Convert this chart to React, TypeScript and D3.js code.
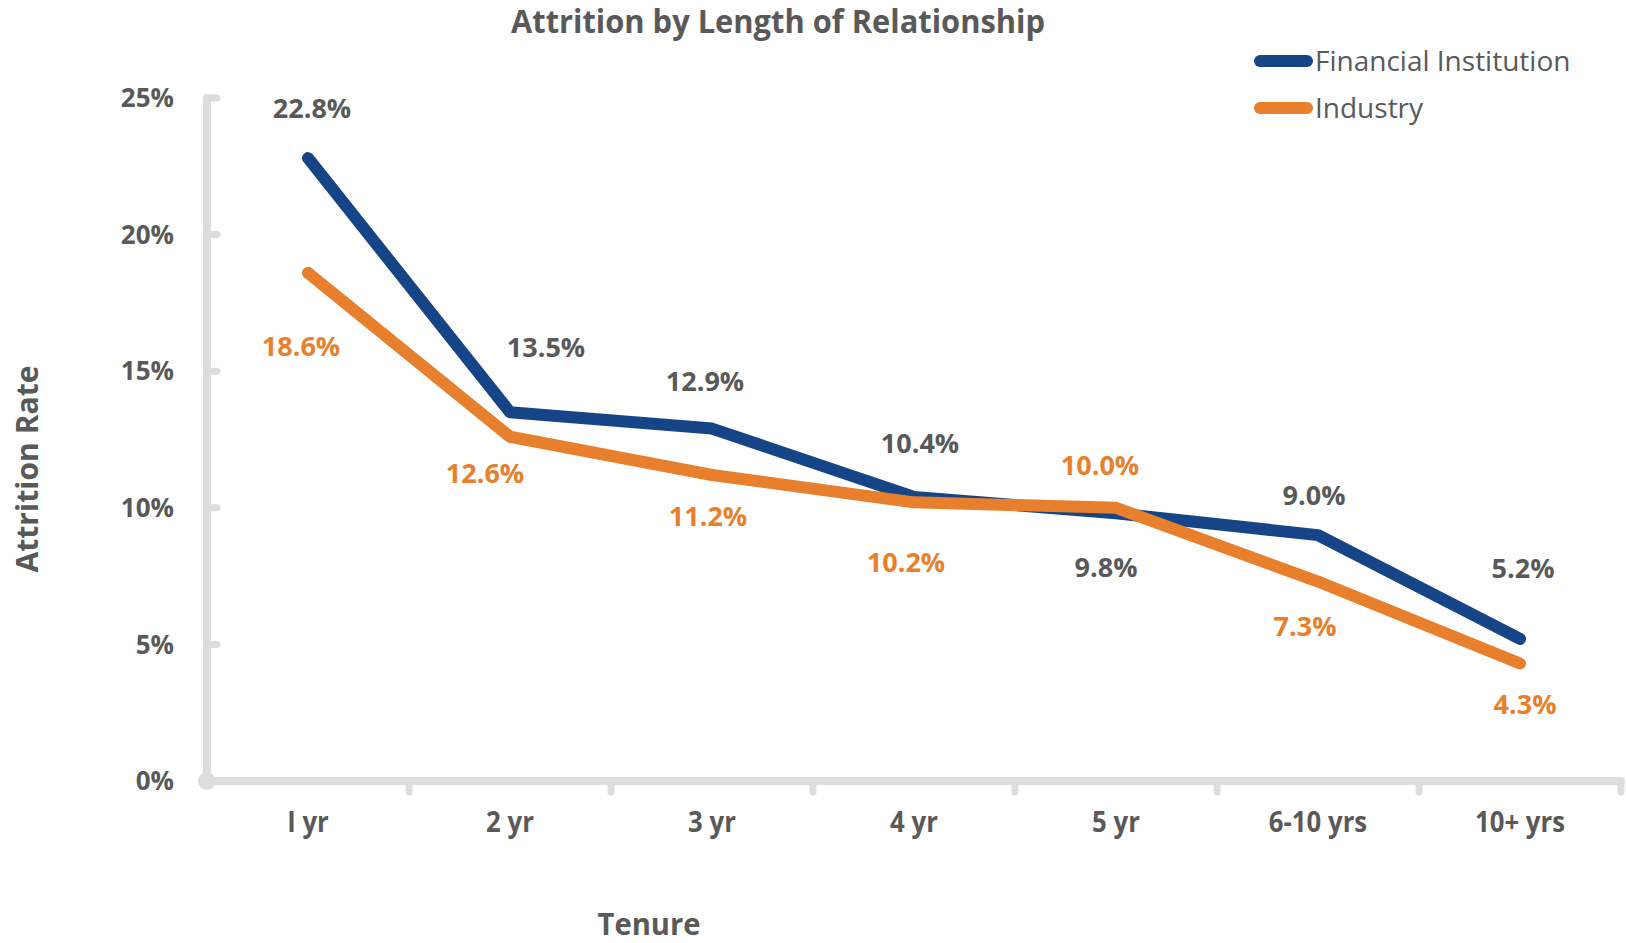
import * as d3 from "d3";
import { useEffect } from "react";

const categories = ["I yr", "2 yr", "3 yr", "4 yr", "5 yr", "6-10 yrs", "10+ yrs"];
const financialInstitution = [22.8, 13.5, 12.9, 10.4, 9.8, 9.0, 5.2];
const industry = [18.6, 12.6, 11.2, 10.2, 10.0, 7.3, 4.3];
const yTicks = [0, 5, 10, 15, 20, 25];

// label nudges (px)
const fiLabelDx = [4, 36, -7, 6, -10, -4, 3];
const fiLabelDy = [-50, -65, -47, -53, 54, -40, -70];
const indLabelDx = [-7, -25, -4, -8, -16, -13, 5];
const indLabelDy = [74, 37, 42, 60, -42, 45, 41];

const W = 1626;
const H = 943;
const BLUE = "#154487";
const ORANGE = "#E77F2C";
const GREY = "#595959";
const AXIS = "#DDDDDD";
const FONT = "'Open Sans', 'Noto Sans', sans-serif";

export default function App() {
  useEffect(() => {
    document.body.style.margin = "0";
  }, []);

  const x = d3.scaleBand<string>().domain(categories).range([207, 1621]);
  const y = d3.scaleLinear().domain([0, 25]).range([781, 98]);
  const cx = (i: number) => (x(categories[i]) ?? 0) + x.bandwidth() / 2;

  const line = d3
    .line<number>()
    .x((_, i) => cx(i))
    .y((d) => y(d));

  const series = [
    { name: "Financial Institution", values: financialInstitution, color: BLUE, labelColor: GREY, dx: fiLabelDx, dy: fiLabelDy },
    { name: "Industry", values: industry, color: ORANGE, labelColor: ORANGE, dx: indLabelDx, dy: indLabelDy },
  ];

  const x0 = x.range()[0];
  const x1 = x.range()[1];

  return (
    <svg width={W} height={H} style={{ display: "block", background: "#fff" }}>
      {/* title */}
      <text
        x={778}
        y={33}
        textAnchor="middle"
        fontFamily={FONT}
        fontWeight={700}
        fontSize={32}
        fill={GREY}
        textLength={534}
        lengthAdjust="spacingAndGlyphs"
      >
        Attrition by Length of Relationship
      </text>

      {/* y axis */}
      <line x1={x0} x2={x0} y1={y(25)} y2={y(0)} stroke={AXIS} strokeWidth={8} strokeLinecap="round" />
      {yTicks.map((t) => (
        <g key={t}>
          <line x1={x0} x2={x0 + 10} y1={y(t)} y2={y(t)} stroke={AXIS} strokeWidth={7} strokeLinecap="round" />
          <text
            x={174}
            y={y(t)}
            dy="0.35em"
            textAnchor="end"
            fontFamily={FONT}
            fontWeight={700}
            fontSize={26}
            fill={GREY}
          >
            {t}%
          </text>
        </g>
      ))}

      {/* x axis */}
      <line x1={x0} x2={x1} y1={y(0)} y2={y(0)} stroke={AXIS} strokeWidth={8} strokeLinecap="round" />
      {categories.map((c, i) => {
        const bx = (x(c) ?? 0) + x.bandwidth();
        return (
          <line key={"t" + i} x1={bx} x2={bx} y1={y(0)} y2={y(0) + 11} stroke={AXIS} strokeWidth={7} strokeLinecap="round" />
        );
      })}
      <circle cx={x0} cy={y(0)} r={9} fill={AXIS} />
      {categories.map((c, i) => (
        <text
          key={"c" + i}
          x={cx(i)}
          y={822}
          dy="0.35em"
          textAnchor="middle"
          fontFamily={FONT}
          fontWeight={700}
          fontSize={28}
          fill={GREY}
          transform={`translate(${cx(i)},0) scale(0.92,1) translate(${-cx(i)},0)`}
        >
          {c}
        </text>
      ))}

      {/* axis titles */}
      <text
        transform="translate(27,469) rotate(-90)"
        dy="0.35em"
        textAnchor="middle"
        fontFamily={FONT}
        fontWeight={700}
        fontSize={31}
        fill={GREY}
        textLength={207}
        lengthAdjust="spacingAndGlyphs"
      >
        Attrition Rate
      </text>
      <text
        x={649}
        y={935}
        textAnchor="middle"
        fontFamily={FONT}
        fontWeight={700}
        fontSize={30}
        fill={GREY}
        textLength={103}
        lengthAdjust="spacingAndGlyphs"
      >
        Tenure
      </text>

      {/* lines */}
      {series.map((s) => (
        <path
          key={s.name}
          d={line(s.values) ?? ""}
          fill="none"
          stroke={s.color}
          strokeWidth={12}
          strokeLinecap="round"
          strokeLinejoin="round"
        />
      ))}

      {/* data labels */}
      {series.map((s) =>
        s.values.map((v, i) => (
          <text
            key={s.name + i}
            x={cx(i) + s.dx[i]}
            y={y(v) + s.dy[i]}
            dy="0.35em"
            textAnchor="middle"
            fontFamily={FONT}
            fontWeight={700}
            fontSize={27}
            fill={s.labelColor}
          >
            {v.toFixed(1)}%
          </text>
        ))
      )}

      {/* legend */}
      {series.map((s, i) => (
        <g key={"l" + i} transform={`translate(1255,${61 + i * 47})`}>
          <line x1={5} x2={52} y1={0} y2={0} stroke={s.color} strokeWidth={12} strokeLinecap="round" />
          <text x={60} y={0} dy="0.35em" fontFamily={FONT} fontSize={28} fill={GREY}>
            {s.name}
          </text>
        </g>
      ))}
    </svg>
  );
}
